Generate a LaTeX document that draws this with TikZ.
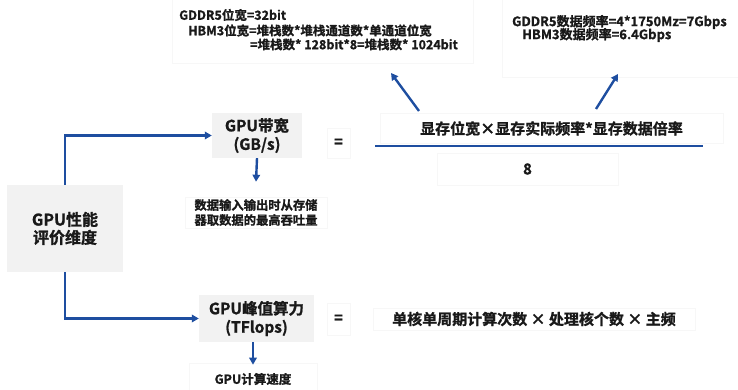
\documentclass[tikz,border=0pt]{standalone}
\usepackage{fontspec}
\setmainfont{Noto Sans CJK SC}[BoldFont={Noto Sans CJK SC Bold}, BoldFeatures={FakeBold=1.2}]
\usetikzlibrary{arrows.meta}
\definecolor{arrowblue}{RGB}{30,78,160}
\definecolor{boxgray}{RGB}{242,242,242}
\definecolor{txt}{RGB}{25,25,25}
\definecolor{faint}{RGB}{247,247,247}
\tikzset{
  graybox/.style={fill=boxgray, draw=none, align=center, inner sep=0pt, text=txt, font=\bfseries\fontsize{15.5}{18.5}\selectfont},
  plainbox/.style={fill=white, draw=faint, line width=0.6pt, align=center, inner sep=0pt, text=txt},
  flow/.style={draw=arrowblue, line width=2.4pt, -{Triangle[length=7pt,width=7.5pt]}},
  conn/.style={draw=arrowblue, line width=2.4pt},
  note/.style={anchor=west, inner sep=0pt, text=txt},
}
\begin{document}
\begin{tikzpicture}[x=1pt,y=-1pt]
\useasboundingbox (0,0) rectangle (738,390);
% faint background text frames
\node[plainbox, minimum width=301, minimum height=68] (bwnotebox) at (322.5,29) {};
\node[plainbox, minimum width=236, minimum height=78] (ratenotebox) at (620,38) {};
% left box
\node[graybox, minimum width=116, minimum height=87, font=\bfseries\fontsize{16}{18}\selectfont] (perf) at (65,228.5) {GPU性能\\评价维度};
% bandwidth
\node[graybox, minimum width=90, minimum height=45] (bw) at (257,135.5) {GPU带宽\\(GB/s)};
\node[plainbox, minimum width=142, minimum height=31, font=\bfseries\fontsize{12.3}{15}\selectfont] (bwdesc) at (256,212.5) {数据输入输出时从存储\\器取数据的最高吞吐量};
\node[plainbox, minimum width=23, minimum height=30, font=\bfseries\fontsize{15}{18}\selectfont] (eq1) at (338.5,143) {=};
\node[plainbox, minimum width=343, minimum height=30, font=\bfseries\fontsize{15}{18}\selectfont] (num) at (551.5,128.5) {显存位宽×显存实际频率*显存数据倍率};
\coordinate (fl) at (375,146);
\coordinate (fr) at (703,146);
\draw[conn, line width=1.6pt] (fl) -- (fr);
\node[plainbox, minimum width=181, minimum height=32, font=\bfseries\fontsize{15}{18}\selectfont] (den) at (527.5,169) {8};
% notes on top
\node[note, font=\bfseries\fontsize{12.5}{15}\selectfont] (n1) at (179,15) {GDDR5位宽=32bit};
\node[note, font=\bfseries\fontsize{12.5}{15}\selectfont] (n2) at (188,30.5) {HBM3位宽=堆栈数*堆栈通道数*单通道位宽};
\node[note, font=\bfseries\fontsize{12.5}{15}\selectfont] (n3) at (250,44.5) {=堆栈数* 128bit*8=堆栈数* 1024bit};
\node[note, font=\bfseries\fontsize{13}{15}\selectfont] (r1) at (512,22) {GDDR5数据频率=4*1750Mz=7Gbps};
\node[note, font=\bfseries\fontsize{13}{15}\selectfont] (r2) at (522,35) {HBM3数据频率=6.4Gbps};
% arrows up
\coordinate (ua1) at (419,111);
\coordinate (ua2) at (391,73);
\coordinate (ub1) at (596,109);
\coordinate (ub2) at (618,74);
\draw[flow] (ua1) -- (ua2);
\draw[flow] (ub1) -- (ub2);
% peak compute
\node[graybox, minimum width=115, minimum height=47] (peak) at (256.5,318.5) {GPU峰值算力\\(TFlops)};
\node[plainbox, minimum width=23, minimum height=32, font=\bfseries\fontsize{15}{18}\selectfont] (eq2) at (338.5,319) {=};
\node[plainbox, minimum width=322, minimum height=22, font=\bfseries\fontsize{15}{18}\selectfont] (formula) at (534,319) {单核单周期计算次数 × 处理核个数 × 主频};
\node[plainbox, minimum width=128, minimum height=32, font=\bfseries\fontsize{12.5}{15}\selectfont] (speed) at (253,379) {GPU计算速度};
% connectors
\draw[flow] (perf.north) |- (bw.west);
\draw[flow] (perf.south) |- (peak.west);
\draw[flow] (bw.south) -- ([yshift=15pt]bwdesc.north);
\draw[flow] (speed.north |- peak.south) -- ([yshift=-2pt]speed.north);
\end{tikzpicture}
\end{document}
